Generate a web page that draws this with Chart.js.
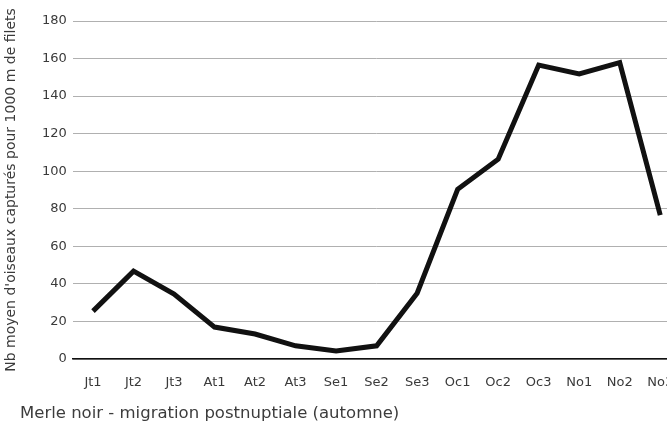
<!DOCTYPE html>
<html>
<head>
<meta charset="utf-8">
<script src="https://cdn.jsdelivr.net/npm/chart.js@4"></script>
<style>
html,body{margin:0;padding:0;background:#fff;overflow:hidden;width:667px;height:430px;}
#wrap{position:relative;width:690px;height:430px;}
#cap{position:absolute;left:20px;top:403px;font-family:"DejaVu Sans",sans-serif;font-size:16.5px;line-height:20px;color:#3c3c3c;white-space:nowrap;}
</style>
</head>
<body>
<div id="wrap"><canvas id="c"></canvas></div>
<div id="cap"></div>
<script>
const categories = ["Jt1","Jt2","Jt3","At1","At2","At3","Se1","Se2","Se3","Oc1","Oc2","Oc3","No1","No2","No3"];
const values = [25.5, 46.8, 34.6, 17, 13.3, 7, 4.3, 7, 35, 90.4, 106.4, 156.5, 151.8, 157.8, 76.6];
const yTitle = "Nb moyen d'oiseaux capturés pour 1000 m de filets";
const caption = "Merle noir - migration postnuptiale (automne)";
const FONT = "DejaVu Sans";

document.getElementById('cap').textContent = caption;

new Chart(document.getElementById('c'), {
  type: 'line',
  data: {
    labels: categories,
    datasets: [{
      data: values,
      borderColor: '#111',
      borderWidth: 5,
      pointRadius: 0,
      tension: 0,
      fill: false,
      borderJoinStyle: 'miter'
    }]
  },
  options: {
    responsive: true,
    maintainAspectRatio: false,
    animation: false,
    layout: { padding: { left: 0, right: 9.5, top: 21, bottom: 0 } },
    plugins: {
      legend: { display: false },
      tooltip: { enabled: false },
      title: { display: false }
    },
    scales: {
      x: {
        offset: true,
        afterFit: (s) => { s.height = 71; },
        grid: { display: false, drawTicks: false },
        border: { display: true, color: '#111', width: 1.5 },
        ticks: { color: '#3a3a3a', font: { family: FONT, size: 13 }, padding: 16, maxRotation: 0, autoSkip: false }
      },
      y: {
        min: 0, max: 180,
        afterFit: (s) => { s.width = 72.75; },
        ticks: { stepSize: 20, color: '#3a3a3a', font: { family: FONT, size: 13 }, padding: 6 },
        grid: { color: '#b0b0b0', lineWidth: 1, drawTicks: false },
        border: { display: false },
        title: { display: true, text: yTitle, color: '#3a3a3a', font: { family: FONT, size: 14 }, padding: { top: 3, bottom: 0 } }
      }
    }
  }
});
</script>
</body>
</html>
